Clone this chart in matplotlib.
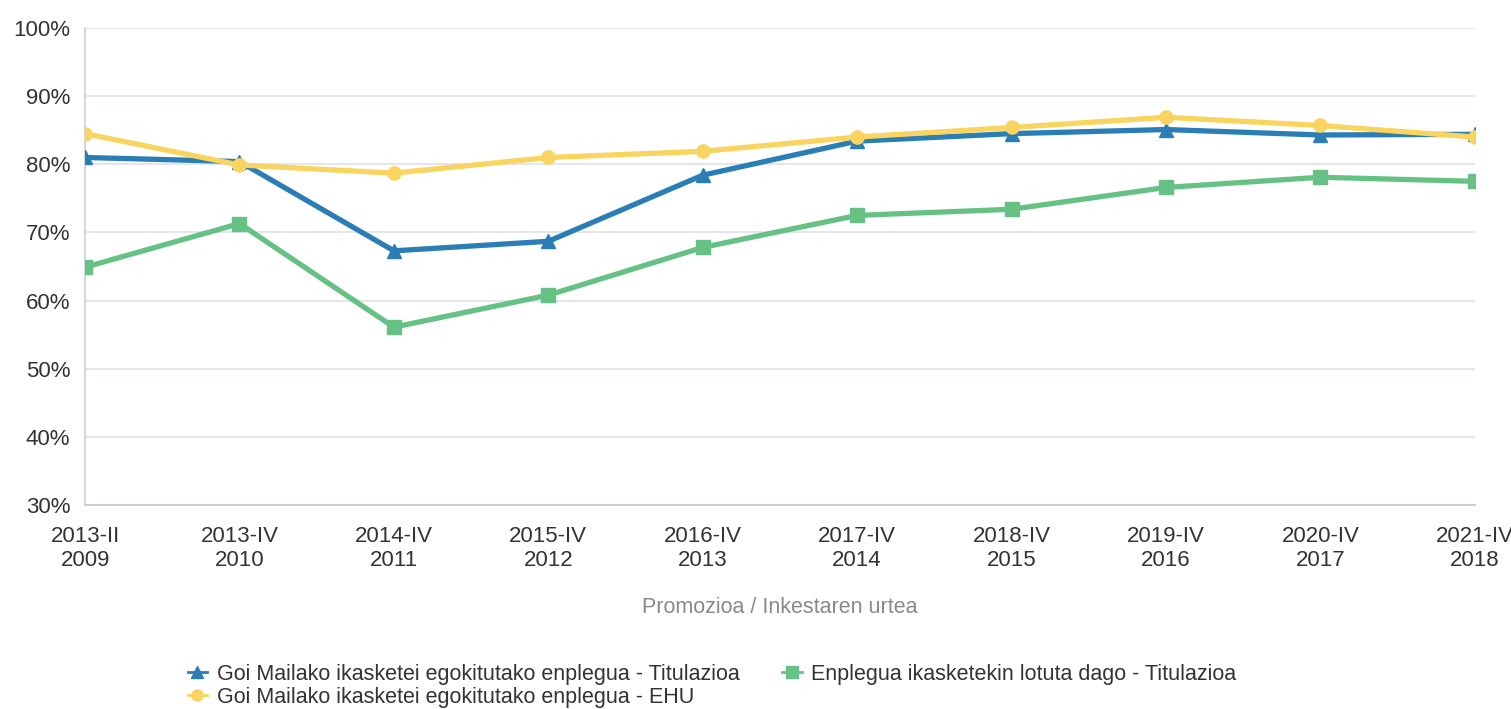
import matplotlib
matplotlib.use('Agg')
import matplotlib.pyplot as plt
from matplotlib.ticker import FuncFormatter

plt.rcParams['font.family'] = ['Liberation Sans', 'DejaVu Sans']

# Data
categories = ['2013-II\n2009', '2013-IV\n2010', '2014-IV\n2011', '2015-IV\n2012',
              '2016-IV\n2013', '2017-IV\n2014', '2018-IV\n2015', '2019-IV\n2016',
              '2020-IV\n2017', '2021-IV\n2018']
goi_titulazioa = [81.0, 80.4, 67.3, 68.7, 78.4, 83.4, 84.5, 85.1, 84.3, 84.4]
goi_ehu = [84.5, 79.9, 78.7, 81.0, 81.9, 84.0, 85.4, 86.9, 85.7, 84.0]
lotuta_titulazioa = [64.9, 71.3, 56.1, 60.8, 67.8, 72.5, 73.4, 76.6, 78.1, 77.5]

label_goi_tit = 'Goi Mailako ikasketei egokitutako enplegua - Titulazioa'
label_goi_ehu = 'Goi Mailako ikasketei egokitutako enplegua - EHU'
label_lotuta = 'Enplegua ikasketekin lotuta dago - Titulazioa'

blue = '#2a7db5'
yellow = '#f9d45e'
green = '#66c184'

fig = plt.figure(figsize=(15.11, 7.09), dpi=100)
ax = fig.add_axes([0.0563, 0.2877, 0.9197, 0.6728])

x = list(range(len(categories)))
l1, = ax.plot(x, goi_titulazioa, color=blue, lw=3.8, marker='^', ms=10, label=label_goi_tit, zorder=3)
l2, = ax.plot(x, lotuta_titulazioa, color=green, lw=3.8, marker='s', ms=9.5, label=label_lotuta, zorder=3)
l3, = ax.plot(x, goi_ehu, color=yellow, lw=3.8, marker='o', ms=9.5, label=label_goi_ehu, zorder=4)

ax.set_xlim(0, len(categories) - 1)
ax.set_ylim(30, 100)
ax.set_yticks(range(30, 101, 10))
ax.yaxis.set_major_formatter(FuncFormatter(lambda v, p: '%d%%' % v))
ax.set_xticks(x)
ax.set_xticklabels(categories)

ax.grid(axis='y', color='#e1e5ea', lw=1.3)
ax.set_axisbelow(True)
for s in ['top', 'right']:
    ax.spines[s].set_visible(False)
ax.spines['left'].set_color('#d0d3d8')
ax.spines['bottom'].set_color('#c8cbd0')
ax.spines['left'].set_linewidth(1.3)
ax.spines['bottom'].set_linewidth(1.3)
ax.tick_params(axis='both', length=0, labelsize=16, labelcolor='#333333')
ax.tick_params(axis='x', pad=15)
ax.tick_params(axis='y', pad=10.5)

ax.set_xlabel('Promozioa / Inkestaren urtea', fontsize=15.5, color='#8a8a8a', labelpad=19)

leg = fig.legend(handles=[l1, l3, l2], loc='upper left', bbox_to_anchor=(0.117, 0.079),
                 ncol=2, frameon=False, fontsize=15.5, handlelength=0.9,
                 handletextpad=0.45, columnspacing=2.0, labelspacing=0.1, borderpad=0,
                 labelcolor='#333333')
for h in leg.legend_handles:
    h.set_markersize(8)
    h.set_linewidth(2)

fig.savefig('out.png', dpi=100)
